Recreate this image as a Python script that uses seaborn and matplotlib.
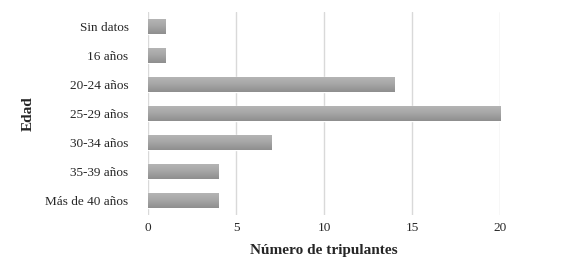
import numpy as np
import pandas as pd
import matplotlib
matplotlib.use("Agg")
import matplotlib.pyplot as plt
from matplotlib.colors import LinearSegmentedColormap
import seaborn as sns

edades = ["Sin datos", "16 años", "20-24 años", "25-29 años",
          "30-34 años", "35-39 años", "Más de 40 años"]
tripulantes = [1, 1, 14, 20, 7, 4, 4]
ticks_x = [0, 5, 10, 15, 20]

df = pd.DataFrame({"Edad": edades, "Tripulantes": tripulantes})

sns.set_theme(style="white")
plt.rcParams["font.family"] = ["Liberation Serif", "DejaVu Serif"]

fig = plt.figure(figsize=(5.67, 2.66), dpi=100)
ax = fig.add_axes([0.261, 0.192, 0.621, 0.763])

sns.barplot(data=df, y="Edad", x="Tripulantes", orient="h", color="#a3a3a3",
            saturation=1, width=0.52, ax=ax, order=edades)

ax.set_xlim(0, 20)
ax.set_ylim(6.5, -0.5)

# degradado gris como en Excel (claro arriba, oscuro abajo)
grad = LinearSegmentedColormap.from_list("gris", ["#b6b6b6", "#a6a6a6", "#8e8e8e"])
for p in ax.patches:
    x0, y0 = p.get_x(), p.get_y()
    w, h = p.get_width(), p.get_height()
    img = ax.imshow(np.linspace(0, 1, 50).reshape(-1, 1), cmap=grad, aspect="auto",
                    extent=[x0, x0 + w, y0 + h, y0], origin="upper", zorder=2)
    img.set_clip_path(p)

ax.set_xlim(0, 20)
ax.set_ylim(6.5, -0.5)
ax.set_xticks(ticks_x)
ax.grid(True, axis="x", color="#d9d9d9", linewidth=1)
ax.set_axisbelow(True)
for s in ax.spines.values():
    s.set_visible(False)
ax.tick_params(axis="both", length=0, labelsize=9.5, colors="#262626")
ax.tick_params(axis="y", pad=14)
ax.tick_params(axis="x", pad=5)
ax.set_xlabel("Número de tripulantes", fontsize=11, fontweight="bold", labelpad=7)
ax.set_ylabel("Edad", fontsize=11, fontweight="bold", labelpad=8)

fig.savefig("out.png", dpi=100)
